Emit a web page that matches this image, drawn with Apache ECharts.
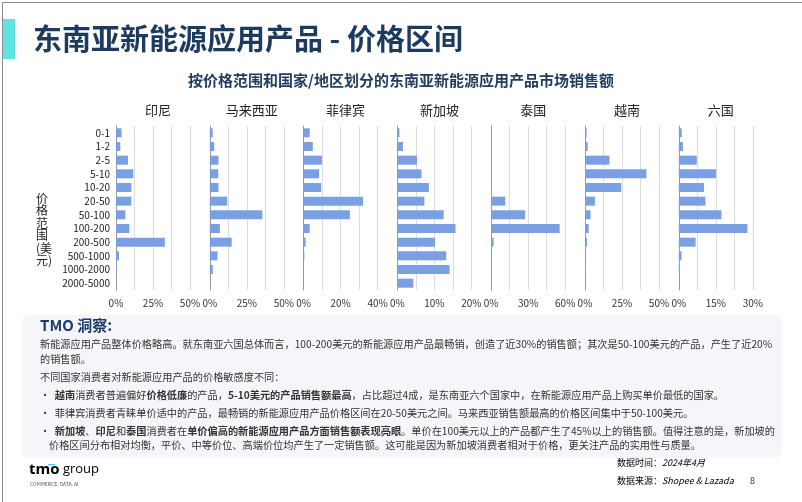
<!DOCTYPE html>
<html>
<head>
<meta charset="utf-8">
<script src="https://cdn.jsdelivr.net/npm/echarts@6/dist/echarts.min.js"></script>
<style>
html,body{margin:0;padding:0;background:#fff;}
#main{width:802px;height:502px;}
</style>
</head>
<body>
<div id="main"></div>
<script>
const categories = ['0-1','1-2','2-5','5-10','10-20','20-50','50-100','100-200','200-500','500-1000','1000-2000','2000-5000'];
const countries = ['印尼','马来西亚','菲律宾','新加坡','泰国','越南','六国'];
const indonesia   = [3.8, 2.9, 8.1, 11.7, 10.4, 10.4, 6.3, 9.0, 33.0, 2.0, 0.5, 0];
const malaysia    = [2.0, 3.0, 5.9, 5.7, 5.9, 11.8, 35.5, 6.8, 14.8, 5.2, 2.0, 0];
const philippines = [3.3, 5.0, 9.9, 8.4, 9.5, 32.1, 25.0, 3.3, 1.1, 0.4, 0, 0];
const singapore   = [0.55, 1.5, 5.3, 6.5, 8.5, 7.3, 12.5, 15.7, 10.2, 13.2, 14.1, 4.3];
const thailand    = [0, 0, 0.5, 0.5, 0.5, 11.4, 27.5, 55.5, 1.9, 0.3, 0.2, 0];
const vietnam     = [1.1, 1.8, 16.5, 41.5, 24.5, 6.7, 3.7, 2.5, 1.4, 0.2, 0.3, 0];
const sixCountries= [1.2, 1.7, 7.3, 15.1, 10.2, 10.8, 17.3, 27.8, 6.8, 1.1, 0.5, 0];
const axisMax = [50, 50, 40, 20, 60, 50, 30];
const seriesValues = [indonesia, malaysia, philippines, singapore, thailand, vietnam, sixCountries];

const FONT = '"Noto Sans CJK SC","Noto Sans",sans-serif';
const NAVY = '#1d3b5e';
const BAR = '#7b9fe3';

const chart = echarts.init(document.getElementById('main'), null, {renderer:'canvas'});

const gridLeft0 = 116, gridStep = 93.8, gridW = 74, gridTop = 126, gridH = 164;
const grids = [], xAxes = [], yAxes = [], series = [], titles = [];

titles.push({
  text: '东南亚新能源应用产品 - 价格区间', left: 28, top: 19,
  textStyle: {fontFamily: FONT, fontSize: 29, fontWeight: 'bold', color: NAVY}
});
titles.push({
  text: '按价格范围和国家/地区划分的东南亚新能源应用产品市场销售额', left: 'center', top: 68,
  textStyle: {fontFamily: FONT, fontSize: 15, fontWeight: 'bold', color: '#213d5f'}
});

countries.forEach((name, i) => {
  const left = gridLeft0 + i * gridStep;
  grids.push({left: left, top: gridTop, width: gridW, height: gridH, containLabel: false});
  const M = axisMax[i];
  xAxes.push({
    type: 'value', gridIndex: i, min: 0, max: M, interval: M / 4,
    axisLine: {show: false}, axisTick: {show: false},
    splitLine: {show: true, lineStyle: {color: '#dcdcdc', width: 1}},
    axisLabel: {
      fontFamily: FONT, fontSize: 10, color: '#333', margin: 8,
      formatter: v => {
        const r = v / (M / 2);
        return Math.abs(r - Math.round(r)) < 1e-6 ? Math.round(v) + '%' : '';
      }
    }
  });
  yAxes.push({
    type: 'category', gridIndex: i, data: categories, inverse: true,
    axisLine: {show: true, lineStyle: {color: '#9a9a9a', width: 1}},
    axisTick: {show: false},
    axisLabel: {show: i === 0, fontFamily: FONT, fontSize: 10, color: '#222', margin: 6}
  });
  series.push({
    type: 'bar', name: name, xAxisIndex: i, yAxisIndex: i,
    data: seriesValues[i], barCategoryGap: '34%',
    itemStyle: {color: BAR}, silent: true
  });
  titles.push({
    text: name, left: left + gridW / 2, top: 99, textAlign: 'center',
    textStyle: {fontFamily: FONT, fontSize: 13, fontWeight: 'normal', color: '#222'}
  });
});

const rich = {
  n: {fontFamily: FONT, fontSize: 10.2, color: '#333'},
  b: {fontFamily: FONT, fontSize: 10.2, color: '#111', fontWeight: 'bold'}
};
function textEl(x, y, txt, extra) {
  return {type: 'text', left: x, top: y, silent: true,
    style: Object.assign({text: txt, fontFamily: FONT, fontSize: 10.2, fill: '#333', rich: rich}, extra || {})};
}

const graphic = [
  {type: 'rect', left: 0, top: 0, silent: true, z: 100,
   shape: {width: 801, height: 501}, style: {fill: 'none', stroke: '#8c8c8c', lineWidth: 1}},
  {type: 'rect', left: 2, top: 19, silent: true,
   shape: {width: 13, height: 40}, style: {fill: '#62e3e3'}},
  {type: 'text', left: 36, top: 192, silent: true,
   style: {text: '价\n格\n范\n围\n(美\n元)', fontFamily: FONT, fontSize: 12, lineHeight: 12.5, fill: '#222', align: 'center'}},
  {type: 'rect', left: 22, top: 315, silent: true, z: -1,
   shape: {width: 760, height: 143, r: 7}, style: {fill: '#f4f6f9'}},
  {type: 'text', left: 40, top: 318, silent: true,
   style: {text: 'TMO 洞察:', fontFamily: FONT, fontSize: 15, fontWeight: 'bold', fill: '#1e3a66'}},
  textEl(40, 339, '新能源应用产品整体价格略高。就东南亚六国总体而言，100-200美元的新能源应用产品最畅销，创造了近30%的销售额；其次是50-100美元的产品，产生了近20%'),
  textEl(40, 354, '的销售额。'),
  textEl(40, 372, '不同国家消费者对新能源应用产品的价格敏感度不同：'),
  textEl(40, 390, '{n|·  }{b|越南}{n|消费者普遍偏好}{b|价格低廉}{n|的产品，}{b|5-10美元的产品销售额最高}{n|，占比超过4成，是东南亚六个国家中，在新能源应用产品上购买单价最低的国家。}'),
  textEl(40, 408, '{n|·  菲律宾消费者青睐单价适中的产品，最畅销的新能源应用产品价格区间在20-50美元之间。马来西亚销售额最高的价格区间集中于50-100美元。}'),
  textEl(40, 426, '{n|·  }{b|新加坡}{n|、}{b|印尼}{n|和}{b|泰国}{n|消费者在}{b|单价偏高的新能源应用产品方面销售额表现亮眼}{n|。单价在100美元以上的产品都产生了45%以上的销售额。值得注意的是，新加坡的}'),
  textEl(49, 440, '价格区间分布相对均衡，平价、中等价位、高端价位均产生了一定销售额。这可能是因为新加坡消费者相对于价格，更关注产品的实用性与质量。'),
  {type: 'text', left: 29, top: 462, silent: true,
   style: {text: '{t|tmo}{g| group}', rich: {
     t: {fontFamily: '"Open Sans","Noto Sans",sans-serif', fontSize: 15, fontWeight: 'bold', color: '#1b2f57'},
     g: {fontFamily: '"Open Sans","Noto Sans",sans-serif', fontSize: 13, color: '#1b2f57'}}}},
  {type: 'rect', left: 48, top: 464, silent: true, shape: {width: 7, height: 1.5}, style: {fill: '#4fd6e0'}},
  {type: 'text', left: 30, top: 482, silent: true,
   style: {text: 'COMMERCE. DATA. AI', fontFamily: FONT, fontSize: 5, fill: '#556'}},
  {type: 'text', left: 617, top: 458, silent: true,
   style: {text: '{n|数据时间：}{i|2024年4月}', rich: {
     n: {fontFamily: FONT, fontSize: 9, color: '#888'},
     i: {fontFamily: FONT, fontSize: 9, color: '#888', fontStyle: 'italic'}}}},
  {type: 'text', left: 617, top: 476, silent: true,
   style: {text: '{n|数据来源：}{i|Shopee & Lazada}', rich: {
     n: {fontFamily: FONT, fontSize: 9, color: '#888'},
     i: {fontFamily: FONT, fontSize: 9, color: '#888', fontStyle: 'italic'}}}},
  {type: 'text', left: 750, top: 476, silent: true,
   style: {text: '8', fontFamily: FONT, fontSize: 9, fill: '#333'}}
];

chart.setOption({
  backgroundColor: '#ffffff',
  animation: false,
  title: titles,
  grid: grids,
  xAxis: xAxes,
  yAxis: yAxes,
  series: series,
  graphic: graphic
});
</script>
</body>
</html>
